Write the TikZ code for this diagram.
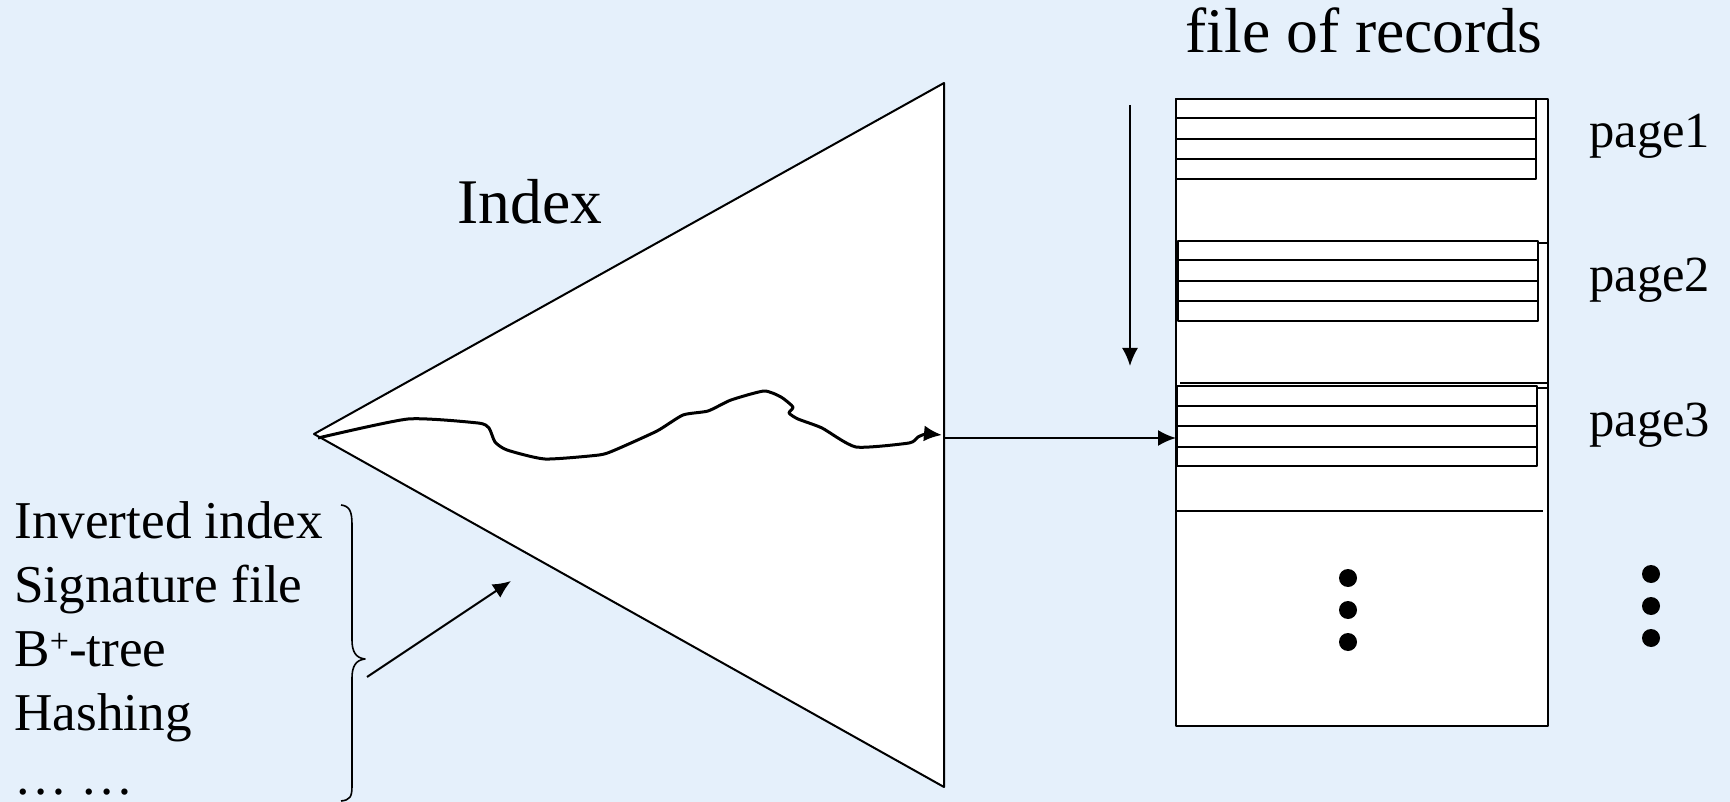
\documentclass[tikz,border=0pt]{standalone}
\usepackage{fontspec}
\setmainfont{Liberation Serif}
\usetikzlibrary{arrows.meta,calc}
\definecolor{bgc}{RGB}{229,240,251}
\begin{document}
\begin{tikzpicture}[x=0.5pt,y=-0.5pt,line join=round,
  ln/.style={line width=1pt},
  arr/.style={line width=1pt,-{Latex[length=9pt,width=8pt]}},
  lab/.style={inner sep=0pt, anchor=base west, font=\fontsize{26.6pt}{32pt}\selectfont},
  big/.style={inner sep=0pt, anchor=base, font=\fontsize{31.8pt}{38pt}\selectfont},
  pg/.style={inner sep=0pt, anchor=base west, font=\fontsize{25.3pt}{30pt}\selectfont},
  filebox/.style={draw, line width=1pt, fill=white, minimum width=186pt, minimum height=313.5pt, inner sep=0pt},
  pagebox/.style={draw, line width=1pt, fill=white, minimum width=180pt, minimum height=40pt, inner sep=0pt},
  dot/.style={circle, fill=black, minimum size=9pt, inner sep=0pt}]
\fill[bgc] (0,0) rectangle (1730,802);
\useasboundingbox (0,0) rectangle (1730,802);

% triangle (index)
\coordinate (apex) at (314,434);
\coordinate (ttop) at (944,83);
\coordinate (tbot) at (944,787);
\draw[ln, fill=white] (apex) -- (ttop) -- (tbot) -- cycle;
\node[big] (index) at (530,224) {Index};

% wavy search path
\coordinate (wend) at (942,435);
\draw[line width=1.5pt,-{Latex[length=9pt,width=8pt]}] plot[smooth, tension=0.35] coordinates {
 (318,438) (408,419) (478,423) (489,428) (495,442) (507,450) (545,459) (599,455)
 (615,450) (657,431) (683,415) (708,411) (731,400) (764,391) (781,397) (793,407)
 (789,413) (798,419) (822,428) (856,447) (909,443) (918,437) (926,434) (wend)};

% file of records
\node[big] (title) at (1364,53) {file of records};
\node[filebox] (file) at (1362,412.5) {};
\node[pagebox] (p1) at (1356,139) {};
\node[pagebox] (p2) at (1358,281) {};
\node[pagebox] (p3) at (1357,426) {};
\foreach \p in {p1,p2,p3}
  \foreach \f in {0.25,0.5,0.75}
    \draw[ln] ($(\p.north west)!\f!(\p.south west)$) -- ($(\p.north east)!\f!(\p.south east)$);
\draw[ln] (1538,243) -- (1548,243);
\draw[ln] (1180,383) -- (1548,383);
\draw[ln] (1537,388) -- (1548,388);
\draw[ln] (1176,511) -- (1543,511);

\node[dot] (d1) at (1348,578) {};
\node[dot] (d2) at (1348,610) {};
\node[dot] (d3) at (1348,642) {};
\node[dot] (e1) at (1651,574) {};
\node[dot] (e2) at (1651,606) {};
\node[dot] (e3) at (1651,638) {};

\node[pg] (l1) at (1589,148) {page1};
\node[pg] (l2) at (1589,292) {page2};
\node[pg] (l3) at (1589,437) {page3};

% scan arrow
\coordinate (stop) at (1130,105);
\coordinate (sbot) at (1130,366);
\draw[arr] (stop) -- (sbot);

% index to page3
\coordinate (tr) at (944,438);
\draw[arr] (tr) -- (tr -| p3.west);

% list of index kinds
\node[lab] (i1) at (14,538) {Inverted index};
\node[lab] (i2) at (14,602) {Signature file};
\node[lab] (i3) at (14,666) {B{\fontsize{17pt}{20pt}\selectfont\raisebox{7pt}{+}}-tree};
\node[lab] (i4) at (14,730) {Hashing};
\node[lab] (i5) at (14,794) {… …};

\draw[line width=0.8pt] (341,505) .. controls (350,506) and (352,512) .. (352,525) -- (352,640)
  .. controls (352,652) and (356,658) .. (365,659)
  .. controls (356,660) and (352,666) .. (352,678) -- (352,786)
  .. controls (352,797) and (350,800) .. (341,801);
\coordinate (bt) at (367,677);
\coordinate (bh) at (511,581);
\draw[arr] (bt) -- (bh);
\end{tikzpicture}
\end{document}
